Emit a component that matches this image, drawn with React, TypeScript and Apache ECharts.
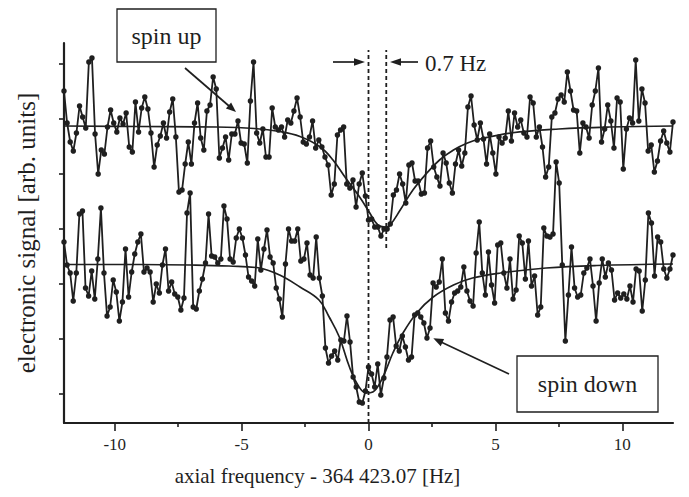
import React, { useEffect, useRef } from "react";
import * as echarts from "echarts";

// spin up trace (arb. units), equally spaced from -12 to 12 Hz
const spinUpSignal = [
  332, 300, 281, 272, 290, 317, 306, 295, 361, 365, 289, 249, 273, 269, 296, 313, 300, 291, 305, 299,
  310, 276, 271, 321, 291, 315, 326, 314, 290, 256, 278, 287, 300, 285, 311, 324, 286, 231, 233, 259,
  281, 259, 300, 320, 285, 273, 312, 318, 346, 334, 265, 275, 286, 263, 289, 289, 302, 280, 279, 260,
  322, 361, 290, 280, 294, 266, 266, 315, 296, 293, 296, 286, 303, 300, 312, 325, 306, 281, 279, 286,
  302, 275, 283, 276, 266, 258, 228, 239, 288, 293, 296, 239, 235, 243, 216, 239, 250, 227, 203, 204,
  196, 196, 187, 194, 194, 199, 228, 233, 249, 239, 220, 258, 260, 242, 242, 229, 230, 275, 282, 256,
  246, 237, 270, 260, 240, 230, 259, 273, 257, 270, 316, 327, 298, 283, 300, 284, 259, 289, 270, 249,
  286, 280, 285, 312, 282, 310, 296, 303, 290, 286, 326, 320, 286, 296, 276, 246, 256, 306, 310, 324,
  328, 321, 351, 332, 313, 312, 270, 300, 296, 285, 318, 332, 355, 281, 294, 318, 302, 275, 325, 321,
  254, 294, 305, 300, 363, 302, 334, 320, 272, 278, 251, 262, 282, 292, 280, 271, 301,
];

// spin down trace (arb. units), equally spaced from -12 to 12 Hz
const spinDownSignal = [
  181, 158, 150, 122, 150, 209, 212, 135, 127, 152, 124, 164, 215, 150, 107, 116, 143, 131, 102, 121,
  174, 126, 151, 169, 181, 189, 151, 155, 151, 121, 139, 130, 158, 174, 132, 141, 129, 126, 113, 125,
  210, 230, 116, 114, 132, 144, 160, 209, 167, 166, 160, 164, 217, 204, 164, 161, 185, 194, 185, 168,
  146, 142, 137, 184, 153, 174, 193, 166, 160, 135, 124, 106, 159, 194, 182, 182, 194, 162, 164, 180,
  148, 145, 186, 145, 127, 75, 60, 67, 72, 63, 83, 82, 107, 81, 46, 36, 21, 20, 32, 56,
  49, 36, 59, 28, 45, 66, 103, 106, 77, 72, 87, 76, 63, 66, 108, 110, 106, 100, 85, 95,
  140, 136, 141, 164, 110, 102, 121, 130, 132, 136, 156, 132, 122, 117, 170, 201, 150, 128, 171, 138,
  120, 178, 180, 150, 135, 164, 124, 133, 187, 180, 144, 182, 137, 147, 108, 116, 195, 187, 186, 189,
  261, 240, 158, 82, 128, 176, 135, 126, 128, 150, 155, 164, 137, 102, 140, 164, 146, 160, 153, 123,
  130, 125, 129, 124, 137, 121, 154, 152, 112, 143, 210, 200, 147, 186, 181, 154, 145, 154, 168,
];

// Lorentzian fits
const fitUpFreq = [-12, -9, -6, -4.5, -3.5, -2.7, -1.9, -1.4, -0.9, -0.35, 0.05, 0.37, 0.65, 0.85, 1.25, 1.75, 2.3, 2.8, 3.35, 3.9, 4.4, 5.6, 7.5, 9.5, 12];
const fitUpSignal = [297, 296.5, 296, 294.5, 291.5, 286.5, 276, 263, 245, 226, 210, 198, 196, 198, 213, 233, 250, 263, 273, 280, 284, 290, 294, 296, 297];
const fitDownFreq = [-12, -9, -7, -5.5, -4.3, -3.5, -2.7, -1.95, -1.55, -1.15, -0.75, -0.42, -0.09, 0.17, 0.57, 0.96, 1.36, 1.9, 2.55, 3.35, 4.1, 5.2, 7, 9, 12];
const fitDownSignal = [158.5, 158.5, 158, 157, 155, 148, 136, 123, 106, 86, 56, 38, 30, 31, 46, 70, 90, 110, 126, 138, 145, 150, 155, 157.5, 159];

const xTickValues = [-10, -5, 0, 5, 10];
const xMinorTickValues = [-7.5, -2.5, 2.5, 7.5];
const yTickValues = [29, 84, 139, 194, 249, 304, 359];
const freqMin = -12;
const freqMax = 12;
const shiftFreq = 0.7;
const markerTop = 373;
const shiftMarkerBottom = 175;

const INK = "#1f1f1f";
const SERIF = '"Liberation Serif", "Times New Roman", "DejaVu Serif", serif';

function onGrid(values: number[]): number[][] {
  const n = values.length;
  return values.map((v, i) => [freqMin + ((freqMax - freqMin) * i) / (n - 1), v]);
}
function pairs(xs: number[], ys: number[]): number[][] {
  return xs.map((x, i) => [x, ys[i]]);
}

export default function App() {
  const ref = useRef<HTMLDivElement>(null);
  useEffect(() => {
    if (!ref.current) return;
    const chart = echarts.init(ref.current, undefined, { renderer: "svg" });
    const traceStyle = {
      type: "line" as const,
      symbol: "circle",
      symbolSize: 5.5,
      showSymbol: true,
      itemStyle: { color: INK },
      lineStyle: { color: INK, width: 1.8 },
      z: 3,
    };
    const fitStyle = {
      type: "line" as const,
      smooth: 0.4,
      showSymbol: false,
      symbol: "none",
      lineStyle: { color: INK, width: 1.7 },
      z: 4,
    };
    const dashStyle = {
      type: "line" as const,
      showSymbol: false,
      symbol: "none",
      lineStyle: { color: INK, width: 1.8, type: [4, 3] },
      z: 2,
    };
    chart.setOption({
      animation: false,
      backgroundColor: "#ffffff",
      textStyle: { fontFamily: SERIF },
      grid: { left: 64, right: 16, top: 43, bottom: 74, outerBoundsMode: "none" },
      xAxis: [
        {
          type: "value",
          min: freqMin,
          max: freqMax,
          position: "bottom",
          axisLine: { show: true, onZero: false, lineStyle: { color: INK, width: 2.2 } },
          axisTick: { show: true, customValues: xTickValues, length: 8, lineStyle: { color: INK, width: 1.6 } },
          axisLabel: { show: true, customValues: xTickValues, margin: 13, fontSize: 17, color: INK, fontFamily: SERIF },
          splitLine: { show: false },
          name: "axial frequency - 364 423.07 [Hz]",
          nameLocation: "middle",
          nameGap: 42,
          nameTextStyle: { fontSize: 21, color: INK, fontFamily: SERIF, padding: [0, 102, 0, 0] },
        },
        {
          type: "value",
          min: freqMin,
          max: freqMax,
          position: "bottom",
          axisLine: { show: false, onZero: false },
          axisTick: { show: true, customValues: xMinorTickValues, length: 4, lineStyle: { color: INK, width: 1.6 } },
          axisLabel: { show: false },
          splitLine: { show: false },
        },
      ],
      yAxis: {
        type: "value",
        min: 0,
        max: 380,
        axisLine: { show: true, onZero: false, lineStyle: { color: INK, width: 2.2 } },
        axisTick: { show: true, customValues: yTickValues, length: 5, lineStyle: { color: INK, width: 1.6 } },
        axisLabel: { show: false },
        splitLine: { show: false },
        name: "electronic signal [arb. units]",
        nameLocation: "middle",
        nameGap: 25,
        nameTextStyle: { fontSize: 25, color: INK, fontFamily: SERIF },
      },
      series: [
        { ...dashStyle, name: "zero", data: [[0, 0], [0, markerTop]] },
        { ...dashStyle, name: "shift", data: [[shiftFreq, shiftMarkerBottom], [shiftFreq, markerTop]] },
        { ...traceStyle, name: "spin up", data: onGrid(spinUpSignal) },
        { ...traceStyle, name: "spin down", data: onGrid(spinDownSignal) },
        { ...fitStyle, name: "spin up fit", data: pairs(fitUpFreq, fitUpSignal) },
        { ...fitStyle, name: "spin down fit", data: pairs(fitDownFreq, fitDownSignal) },
      ],
      graphic: [
        // spin up label
        { type: "rect", shape: { x: 117, y: 9, width: 99, height: 53 }, style: { fill: "#fff", stroke: INK, lineWidth: 1.3 }, z: 10 },
        { type: "text", x: 166.5, y: 36, style: { text: "spin up", fontSize: 24, fontFamily: SERIF, fill: INK, align: "center", verticalAlign: "middle" }, z: 11 },
        { type: "line", shape: { x1: 185, y1: 68, x2: 229, y2: 106 }, style: { stroke: INK, lineWidth: 1.7 }, z: 10 },
        { type: "polygon", shape: { points: [[236, 112], [225.9, 108.4], [231.1, 102.4]] }, style: { fill: INK }, z: 10 },
        // spin down label
        { type: "rect", shape: { x: 517, y: 356, width: 141, height: 56 }, style: { fill: "#fff", stroke: INK, lineWidth: 1.3 }, z: 10 },
        { type: "text", x: 587.5, y: 384, style: { text: "spin down", fontSize: 24, fontFamily: SERIF, fill: INK, align: "center", verticalAlign: "middle" }, z: 11 },
        { type: "line", shape: { x1: 509, y1: 374, x2: 441, y2: 342 }, style: { stroke: INK, lineWidth: 1.7 }, z: 10 },
        { type: "polygon", shape: { points: [[433.3, 338.3], [444.1, 338.9], [440.7, 346.2]] }, style: { fill: INK }, z: 10 },
        // 0.7 Hz marker
        { type: "line", shape: { x1: 333, y1: 62, x2: 357, y2: 62 }, style: { stroke: INK, lineWidth: 1.7 }, z: 10 },
        { type: "polygon", shape: { points: [[365, 62], [354, 58.3], [354, 65.7]] }, style: { fill: INK }, z: 10 },
        { type: "line", shape: { x1: 418, y1: 62, x2: 397, y2: 62 }, style: { stroke: INK, lineWidth: 1.7 }, z: 10 },
        { type: "polygon", shape: { points: [[390, 62], [401, 58.3], [401, 65.7]] }, style: { fill: INK }, z: 10 },
        { type: "text", x: 425, y: 63, style: { text: "0.7 Hz", fontSize: 23, fontFamily: SERIF, fill: INK, align: "left", verticalAlign: "middle" }, z: 11 },
      ],
    });
    return () => chart.dispose();
  }, []);
  return (
    <div
      ref={ref}
      style={{ position: "fixed", left: 0, top: 0, width: 689, height: 497, background: "#fff" }}
    />
  );
}
